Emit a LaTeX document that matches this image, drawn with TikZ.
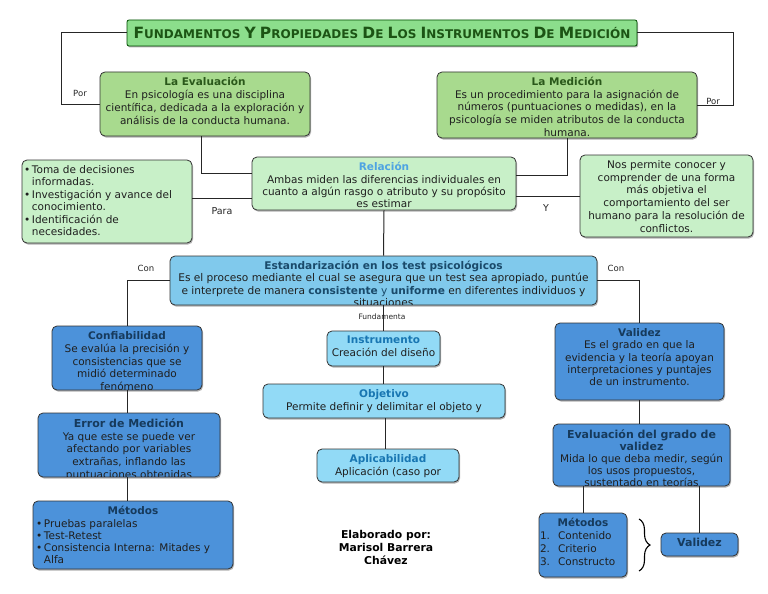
\documentclass[tikz,border=0pt]{standalone}
\usepackage{fontspec}
\setmainfont{DejaVu Sans}
\usetikzlibrary{fit,shadows,decorations.pathreplacing}
\definecolor{titlefill}{RGB}{140,222,140}
\definecolor{titletext}{RGB}{28,84,20}
\definecolor{evalg}{RGB}{168,218,142}
\definecolor{lightg}{RGB}{200,240,200}
\definecolor{gtitle}{RGB}{42,88,26}
\definecolor{reltitle}{RGB}{78,163,226}
\definecolor{estb}{RGB}{128,201,236}
\definecolor{esttitle}{RGB}{26,74,106}
\definecolor{midb}{RGB}{76,146,218}
\definecolor{btitle}{RGB}{22,58,92}
\definecolor{cyanb}{RGB}{146,218,246}
\definecolor{ctitle}{RGB}{24,118,178}
\newcommand\bigc[1]{{\fontsize{15.5}{16}\selectfont #1}}
\tikzset{
  base/.style={draw=black!80, line width=0.8pt, rounded corners=5pt,
    general shadow={fill=black!30, shadow xshift=1pt, shadow yshift=-1.5pt}},
  titlebox/.style={base, fill=titlefill, draw=black!70!green, rounded corners=2pt},
  gbox/.style={base, fill=evalg},
  lgbox/.style={base, fill=lightg},
  bbox/.style={base, fill=midb},
  cbox/.style={base, fill=cyanb},
  ebox/.style={base, fill=estb},
  txt/.style={anchor=north, align=center, inner sep=0pt,
    font=\fontsize{10.5}{12.9}\selectfont, text=black!88},
  conn/.style={draw=black!85, line width=1pt},
  lbl/.style={font=\fontsize{8.5}{10}\selectfont, text=black!85, inner sep=1pt},
}
\newcommand\bx[8]{%
  \node[#6, fit={(#2,#3)(#4,#5)}, inner sep=0pt] (#1) {};
  \begin{scope}
    \clip ([shift={(1pt,-1pt)}]#1.north west) rectangle ([shift={(-1pt,1pt)}]#1.south east);
    \node[txt,#7] at ([yshift=-5.5pt]#1.north) {#8};
  \end{scope}}
\newcommand\gt[1]{\textbf{\color{gtitle}#1}}
\newcommand\bt[1]{\textbf{\color{btitle}#1}}
\newcommand\ct[1]{\textbf{\color{ctitle}#1}}
\begin{document}
\begin{tikzpicture}[x=1pt,y=-1pt]
\useasboundingbox (0,0) rectangle (768,594);
\fill[white] (0,0) rectangle (768,594);

% title
\node[titlebox, fit={(127,20)(637,46)}, inner sep=0pt] (title) {};
\node[anchor=center, inner sep=0pt, text=titletext,
  font=\bfseries\fontsize{12}{13}\selectfont] at ([yshift=0.5pt]title.center)
  {\bigc{F}UNDAMENTOS \bigc{Y} \bigc{P}ROPIEDADES \bigc{D}E \bigc{L}OS \bigc{I}NSTRUMENTOS \bigc{D}E \bigc{M}EDICIÓN};

% green boxes
\bx{eval}{100}{72}{310}{136}{gbox}{}{\gt{La Evaluación}\\En psicología es una disciplina\\científica, dedicada a la exploración y\\análisis de la conducta humana.}
\bx{med}{437}{72}{697}{138}{gbox}{font=\fontsize{10.5}{12.6}\selectfont}{\gt{La Medición}\\Es un procedimiento para la asignación de\\números (puntuaciones o medidas), en la\\psicología se miden atributos de la conducta\\humana.}
\bx{rel}{252}{157}{516}{210}{lgbox}{font=\fontsize{10.5}{12.4}\selectfont}{\textbf{\color{reltitle}Relación}\\Ambas miden las diferencias individuales en\\cuanto a algún rasgo o atributo y su propósito\\es estimar}
\bx{list}{22}{160}{192}{243}{lgbox}{align=left, font=\fontsize{10.5}{12.5}\selectfont}{\makebox[166pt][l]{\textbullet\,Toma de decisiones}\\\phantom{\textbullet\,}informadas.\\\textbullet\,Investigación y avance del\\\phantom{\textbullet\,}conocimiento.\\\textbullet\,Identificación de\\\phantom{\textbullet\,}necesidades.}
\bx{conoc}{580}{155}{753}{237}{lgbox}{font=\fontsize{10.5}{12.8}\selectfont}{Nos permite conocer y\\comprender de una forma\\más objetiva el\\comportamiento del ser\\humano para la resolución de\\conflictos.}

% standardization
\bx{est}{170}{256}{597}{305}{ebox}{font=\fontsize{10.6}{12.2}\selectfont}{\textbf{\color{esttitle}Estandarización en los test psicológicos}\\Es el proceso mediante el cual se asegura que un test sea apropiado, puntúe\\e interprete de manera {\color{esttitle}\textbf{consistente} y \textbf{uniforme}} en diferentes individuos y\\situaciones}

% left column
\bx{conf}{52}{326}{202}{390}{bbox}{}{\bt{Confiabilidad}\\Se evalúa la precisión y\\consistencias que se\\midió determinado\\fenómeno}
\bx{err}{38}{413}{220}{477}{bbox}{}{\bt{\fontsize{11}{12.8}\selectfont Error de Medición}\\Ya que este se puede ver\\afectando por variables\\extrañas, inflando las\\puntuaciones obtenidas}
\bx{metl}{33}{501}{233}{569}{bbox}{align=left, font=\fontsize{10.5}{12.3}\selectfont}{\makebox[194pt]{\bt{Métodos}}\\\textbullet\,Pruebas paralelas\\\textbullet\,Test-Retest\\\textbullet\,Consistencia Interna: Mitades y\\\phantom{\textbullet\,}Alfa}

% middle column
\bx{inst}{327}{331}{440}{366}{cbox}{}{\ct{Instrumento}\\Creación del diseño}
\bx{obj}{263}{384}{505}{418}{cbox}{}{\ct{Objetivo}\\Permite definir y delimitar el objeto y}
\bx{apl}{317}{449}{459}{482}{cbox}{}{\ct{Aplicabilidad}\\Aplicación (caso por}

% right column
\bx{val}{555}{323}{724}{400}{bbox}{font=\fontsize{10.5}{12.4}\selectfont}{\bt{Validez}\\Es el grado en que la\\evidencia y la teoría apoyan\\interpretaciones y puntajes\\de un instrumento.}
\bx{evg}{553}{424}{730}{486}{bbox}{font=\fontsize{10.5}{12}\selectfont}{\bt{\fontsize{11}{12}\selectfont Evaluación del grado de}\\\bt{\fontsize{11}{12}\selectfont validez}\\Mida lo que deba medir, según\\los usos propuestos,\\sustentado en teorías}
\bx{metr}{539}{513}{627}{577}{bbox}{align=left, font=\fontsize{10.5}{12.8}\selectfont}{\makebox[86pt]{\bt{Métodos}}\\\makebox[18pt][l]{1.}Contenido\\\makebox[18pt][l]{2.}Criterio\\\makebox[18pt][l]{3.}Constructo}
\bx{vals}{661}{533}{738}{556}{bbox}{}{\bt{\fontsize{11}{12}\selectfont Validez}}

% author
\node[inner sep=0pt, fit={(320,527)(452,563)}] (elab) {};
\begin{scope}
  \clip (elab.north west) rectangle (elab.south east);
  \node[txt, font=\bfseries\fontsize{10.8}{13}\selectfont, text=black] at ([yshift=-3.5pt]elab.north) {Elaborado por:\\Marisol Barrera\\Chávez};
\end{scope}

% connectors
\draw[conn] (title.west) -- ++(-65,0) |- (eval.west);
\node[lbl] at (80,93) {Por};
\draw[conn] (title.east) -- ++(96,0) |- (med.east);
\node[lbl] at (713,101) {Por};
\draw[conn] (eval.south -| 201,0) |- (rel.west |- 0,173);
\draw[conn] (med.south) |- (rel.east |- 0,175);
\draw[conn] (list.east |- 0,198) -- (rel.west |- 0,198);
\node[lbl, font=\fontsize{9.5}{10}\selectfont] at (222,211) {Para};
\draw[conn] (rel.east |- 0,196) -- (conoc.west |- 0,196);
\node[lbl, font=\fontsize{9.5}{10}\selectfont] at (546,208) {Y};
\draw[conn] (rel.south) -- (est.north);
\draw[conn] (est.west) -| (conf.north);
\node[lbl] at (146,268) {Con};
\draw[conn] (est.east) -| (val.north);
\node[lbl] at (616,268) {Con};
\draw[conn] (est.south) -- (inst.north);
\node[lbl, font=\fontsize{7.5}{8}\selectfont] at (382,317) {Fundamenta};
\draw[conn] (conf.south) -- (conf.south |- err.north);
\draw[conn] (err.south -| 127,0) -- (metl.north -| 127,0);
\draw[conn] (inst.south) -- (inst.south |- obj.north);
\draw[conn] (obj.south -| 385,0) -- (apl.north -| 385,0);
\draw[conn] (val.south) -- (val.south |- evg.north);
\draw[conn] (metr.north) -- (metr.north |- evg.south);
\draw[conn] (vals.north) -- (vals.north |- evg.south);
\draw[line width=1.1pt, decorate, decoration={brace, amplitude=11pt}] (639,519) -- (639,571);
\end{tikzpicture}
\end{document}
